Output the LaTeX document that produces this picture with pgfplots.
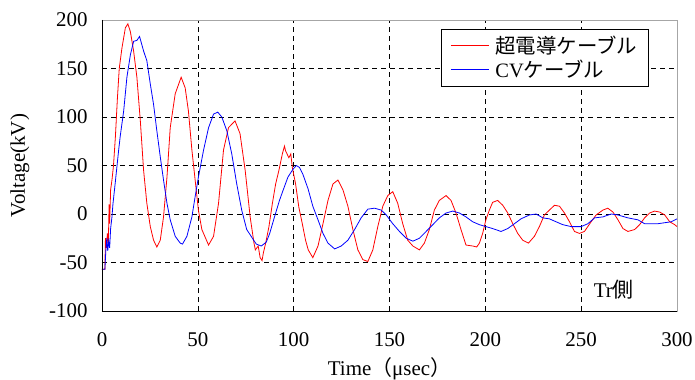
\documentclass[border=0pt]{standalone}
\usepackage{pgfplots}
\pgfplotsset{compat=1.18}
\usepackage{fontspec}
\setmainfont{Liberation Serif}
\newfontfamily\cjk{Noto Sans CJK JP}
\definecolor{myred}{RGB}{255,0,0}
\definecolor{myblue}{RGB}{0,0,255}
\begin{document}
\begin{tikzpicture}
\path[use as bounding box] (-102bp,-69bp) rectangle (593bp,311bp);
\begin{axis}[
  at={(0,0)}, anchor=south west,
  scale only axis, width=575bp, height=291bp,
  xmin=0, xmax=300, ymin=-100, ymax=200,
  xtick={0,50,...,300}, ytick={-100,-50,...,200},
  tick pos=left, tick align=inside,
  major tick length=5bp,
  major tick style={black, line width=0.6bp},
  /pgf/number format/assume math mode=true,
  tick label style={font=\fontsize{21}{24}\selectfont},
  xticklabel style={yshift=-18bp},
  yticklabel style={xshift=-11bp},
  grid=major,
  major grid style={black, line width=0.6bp, dash pattern=on 5bp off 4bp},
  axis line style={draw=gray!70, line width=0.8bp},
  xlabel={Time{\cjk （}μsec{\cjk ）}},
  ylabel={Voltage(kV)},
  label style={font=\fontsize{21}{24}\selectfont},
  xlabel style={at={(axis description cs:0.5,-0.2)}, anchor=center},
  ylabel style={at={(axis description cs:-0.143,0.5)}, anchor=center},
  legend style={at={(axis description cs:0.5896,0.969)}, anchor=north west,
    draw=black, fill=white,
    font=\fontsize{20.5}{23}\selectfont, cells={anchor=west},
    inner xsep=9bp, inner ysep=5bp, row sep=1bp,
    /tikz/every odd column/.append style={column sep=4bp}},
]
\addplot[draw=myred, color=myred, line width=0.8bp,
  legend image code/.code={\draw[draw=myred, line width=1.2bp] (0bp,0bp) -- (38bp,0bp);}] coordinates {
(0,-57) (1.5,-57) (1.8,-25) (2.3,-35) (2.8,-20) (3.3,-32) (3.7,10) (4.0,-10) (4.5,25) (5.2,35) (6.0,50) (7.0,80) (8.0,118) (9.0,150) (10.4,171) (12.2,192) (13.5,196) (14.8,188) (16.5,168) (18.2,141) (20,96) (21.7,45) (23.4,11) (25.2,-13) (26.9,-27) (28.6,-34) (30.4,-27) (32.1,-3) (33.9,38) (35.6,89) (38.2,124) (41.3,141) (43.4,130) (45.1,106) (46.9,66) (48.6,35) (50.3,4) (52.1,-16) (55.6,-32) (58.2,-23) (60.8,11) (63.4,66) (66,89) (69.4,96) (72,83) (74.7,45) (77.3,-3) (79.3,-30) (80,-37) (81.5,-33) (82.5,-45) (83.5,-48) (84.2,-40) (85.4,-30) (87.1,-13) (88.9,11) (90.6,31) (92.3,45) (94.1,62) (95.2,70) (95.8,65) (97.5,58) (98.5,62) (99.3,48) (101,31) (102.7,7) (104.5,-10) (106.2,-27) (107.6,-37) (110,-45) (112.7,-33) (115.3,-10) (117.9,14) (120.5,31) (123.1,35) (125.7,25) (128.3,8) (130.9,-16) (133.5,-37) (136.1,-47) (138.7,-49) (141.3,-37) (143.9,-13) (146.5,8) (149.1,19) (151.7,23) (154.3,11) (156.9,-10) (159.5,-27) (162.2,-33) (165.6,-37) (168.2,-30) (170.8,-16) (173.4,4) (176,14) (179.5,19) (182.1,14) (184.7,1) (187.3,-16) (189.9,-32) (193.4,-33) (195.5,-34) (196.9,-30) (198.6,-20) (200.3,-6) (202.1,4) (203.8,12) (206.4,14) (209.1,9) (211.7,1) (214.3,-10) (216.9,-20) (219.5,-27) (222.5,-30) (225.6,-23) (228.2,-13) (230.8,-1) (233.4,4) (236.1,9) (238.7,8) (241.3,1) (243.9,-8) (246.5,-18) (249.1,-20) (251.7,-18) (255.2,-8) (257.8,-1) (261.3,4) (263.9,6) (266.6,2) (269.2,-6) (271.8,-15) (274.4,-18) (277.9,-16) (280.5,-11) (283.1,-4) (285.7,1) (288.3,3) (291,2) (293.6,-1) (296.2,-8) (298.8,-11) (300,-13)
};
\addlegendentry{{\cjk 超電導ケーブル}}
\addplot[draw=myblue, color=myblue, line width=0.8bp,
  legend image code/.code={\draw[draw=myblue, line width=1.2bp] (0bp,0bp) -- (38bp,0bp);}] coordinates {
(0,-57) (1.5,-57) (2.0,-38) (2.5,-25) (3.0,-38) (3.5,-28) (4.0,-35) (4.5,-15) (5.2,-3) (5.7,10) (6.9,32) (8.7,66) (9.5,80) (11.3,106) (13,141) (14.8,164) (16.5,178) (18.2,179) (19.6,183) (21.7,168) (23.4,158) (25.2,134) (26.9,113) (28.6,86) (30.4,59) (32.1,35) (33.9,11) (35.6,-6) (38.2,-23) (40.8,-30) (42,-31) (44.3,-23) (46.9,-3) (48.6,18) (50.3,38) (53,66) (55.6,89) (58.2,103) (60.4,105) (62.5,100) (65.1,86) (67.7,62) (70.3,31) (72.9,4) (75.5,-16) (77.5,-22) (78.8,-26) (80.5,-31) (83.1,-33) (85.7,-29) (87.5,-20) (90,-3) (92.6,14) (94.4,24) (97,38) (99.6,46) (101.4,50) (103,48) (104.8,41) (107.5,26) (110,8) (112.7,-6) (115.3,-20) (117.9,-30) (121.4,-36) (124.8,-33) (128.3,-27) (131.8,-16) (135.2,-4) (138.7,5) (142.2,6) (145.7,4) (148.3,-1) (151.7,-10) (155.2,-18) (158.7,-25) (162.2,-28) (165.6,-25) (169.1,-18) (172.6,-11) (176,-4) (179.5,1) (183,3) (186.5,1) (189.9,-3) (193.4,-8) (196.9,-11) (200.3,-13) (203.8,-15) (208.2,-18) (211.7,-15) (215.2,-10) (218.6,-5) (223,-1) (226.5,0) (230,-4) (233.4,-5) (236.9,-8) (240.4,-11) (244.8,-13) (250,-13) (253.5,-10) (257,-4) (261.3,-3) (265.7,0) (269.2,-1) (274.4,-4) (279.6,-6) (283.1,-10) (290.1,-10) (297,-8) (300,-5)
};
\addlegendentry{CV{\cjk ケーブル}}
\draw[black, line width=0.9bp] (rel axis cs:0,1) -- (rel axis cs:0,0) -- (rel axis cs:1,0);
\node[font=\fontsize{21}{24}\selectfont, anchor=center] at (axis cs:267,-78) {Tr{\cjk 側}};
\end{axis}
\end{tikzpicture}
\end{document}
